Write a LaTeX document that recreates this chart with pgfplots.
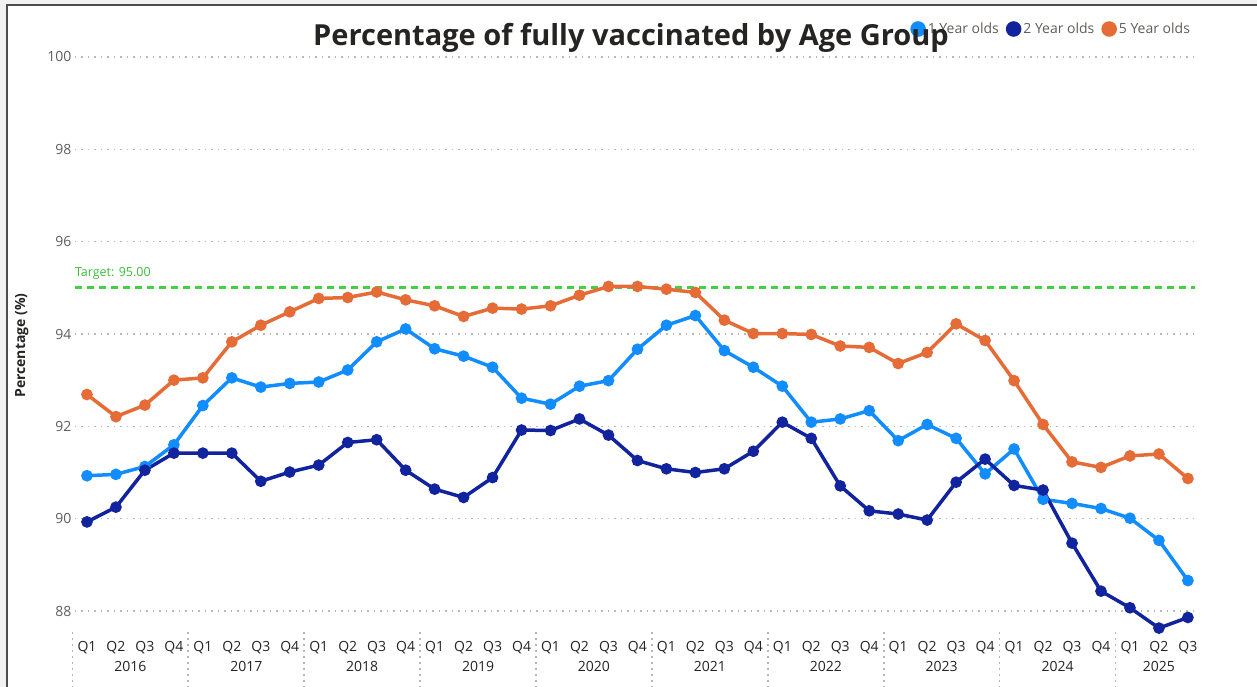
\documentclass[border=0pt]{standalone}
\usepackage{fontspec}
\setmainfont{Open Sans}
\usepackage{pgfplots}
\usepackage{pgfplotstable}
\pgfplotsset{compat=1.18}
\definecolor{c1}{HTML}{118DFF}
\definecolor{c2}{HTML}{12239E}
\definecolor{c5}{HTML}{E66C37}
\definecolor{tgt}{HTML}{45CF45}
\definecolor{tickgray}{HTML}{605E5C}
\definecolor{txt}{HTML}{252423}
\definecolor{sepgray}{HTML}{B8B6B4}

\pgfplotstableread{
i  one    two    five
0  90.93  89.93  92.69
1  90.96  90.25  92.21
2  91.13  91.05  92.46
3  91.60  91.42  93.00
4  92.45  91.42  93.05
5  93.05  91.42  93.83
6  92.85  90.81  94.19
7  92.93  91.01  94.48
8  92.96  91.16  94.77
9  93.22  91.65  94.79
10 93.83  91.71  94.91
11 94.11  91.05  94.74
12 93.68  90.64  94.61
13 93.52  90.46  94.38
14 93.28  90.89  94.56
15 92.61  91.92  94.54
16 92.48  91.91  94.61
17 92.87  92.16  94.84
18 92.99  91.81  95.03
19 93.67  91.26  95.03
20 94.19  91.08  94.97
21 94.40  91.00  94.90
22 93.64  91.08  94.30
23 93.28  91.46  94.01
24 92.87  92.09  94.01
25 92.09  91.74  93.99
26 92.16  90.71  93.74
27 92.34  90.17  93.71
28 91.69  90.10  93.36
29 92.04  89.97  93.60
30 91.74  90.79  94.22
31 90.97  91.29  93.86
32 91.51  90.72  92.99
33 90.42  90.62  92.04
34 90.33  89.47  91.23
35 90.22  88.43  91.11
36 90.01  88.07  91.36
37 89.53  87.63  91.40
38 88.66  87.86  90.87
}\datatable

\begin{document}
\begin{tikzpicture}[x=1pt,y=1pt]
\useasboundingbox (0,0) rectangle (1257,687);
\fill[gray!10] (0,0) rectangle (1257,687);
\fill[white] (7,0) rectangle (1257,682);
\draw[black!70, line width=1.3pt] (7,0) -- (7,682) -- (1257,682);

% year separators (quarter boundaries), x = 87 + 28.97*i
\foreach \i in {-0.5,3.5,7.5,11.5,15.5,19.5,23.5,27.5,31.5,35.5}{
  \draw[sepgray, line width=1.8pt, dash pattern=on 1.8pt off 4.2pt] ({87+28.97*\i},55) -- ({87+28.97*\i},0);
}

\begin{axis}[
  at={(74.8pt,52.9pt)}, anchor=south west,
  scale only axis, width=1120.3pt, height=577.1pt,
  xmin=-0.42, xmax=38.25, ymin=87.5, ymax=100,
  clip=false,
  axis line style={draw=none},
  tick style={draw=none},
  /pgf/number format/assume math mode=true,
  ytick={88,90,...,100},
  ymajorgrids,
  grid style={black!28, line width=1.2pt, dash pattern=on 1.3pt off 5.2pt},
  yticklabel style={font=\fontsize{14}{16}\selectfont, text=tickgray},
  xtick={0,...,38},
  xticklabels={Q1,Q2,Q3,Q4,Q1,Q2,Q3,Q4,Q1,Q2,Q3,Q4,Q1,Q2,Q3,Q4,Q1,Q2,Q3,Q4,Q1,Q2,Q3,Q4,Q1,Q2,Q3,Q4,Q1,Q2,Q3,Q4,Q1,Q2,Q3,Q4,Q1,Q2,Q3},
  xticklabel style={font=\fontsize{14}{16}\selectfont, text=txt, yshift=-4pt},
  ylabel={\bfseries Percentage (\%)},
  every axis y label/.style={at={(rel axis cs:0,0.5)}, xshift=-53pt, rotate=90, anchor=center, font=\fontsize{14}{16}\selectfont, text=txt},
  legend style={at={(axis description cs:1.0,1.0485)}, anchor=east, draw=none, fill=none,
    legend columns=3, font=\fontsize{14}{16}\selectfont, text=tickgray,
    /tikz/every even column/.append style={column sep=5pt}},
  legend image code/.code={\fill (4pt,0pt) circle (6pt);},
  legend cell align=left,
]
\addplot[tgt, line width=3pt, dash pattern=on 7pt off 5pt, forget plot] coordinates {(-0.42,95) (38.25,95)};
\node[anchor=west, text=tgt!90!black, font=\fontsize{12.5}{14}\selectfont, inner sep=0pt] at (axis cs:-0.42,95.32) {Target: 95.00};

\addplot[c1, line width=3.5pt, mark=*, mark size=4pt] table[x=i, y=one] {\datatable};
\addlegendentry{1 Year olds}
\addplot[c2, line width=3.5pt, mark=*, mark size=4pt] table[x=i, y=two] {\datatable};
\addlegendentry{2 Year olds}
\addplot[c5, line width=3.5pt, mark=*, mark size=4pt] table[x=i, y=five] {\datatable};
\addlegendentry{5 Year olds}

\node[text=txt, font=\fontsize{14}{16}\selectfont] at ([yshift=-32pt]axis cs:1.5,87.5) {2016};
\node[text=txt, font=\fontsize{14}{16}\selectfont] at ([yshift=-32pt]axis cs:5.5,87.5) {2017};
\node[text=txt, font=\fontsize{14}{16}\selectfont] at ([yshift=-32pt]axis cs:9.5,87.5) {2018};
\node[text=txt, font=\fontsize{14}{16}\selectfont] at ([yshift=-32pt]axis cs:13.5,87.5) {2019};
\node[text=txt, font=\fontsize{14}{16}\selectfont] at ([yshift=-32pt]axis cs:17.5,87.5) {2020};
\node[text=txt, font=\fontsize{14}{16}\selectfont] at ([yshift=-32pt]axis cs:21.5,87.5) {2021};
\node[text=txt, font=\fontsize{14}{16}\selectfont] at ([yshift=-32pt]axis cs:25.5,87.5) {2022};
\node[text=txt, font=\fontsize{14}{16}\selectfont] at ([yshift=-32pt]axis cs:29.5,87.5) {2023};
\node[text=txt, font=\fontsize{14}{16}\selectfont] at ([yshift=-32pt]axis cs:33.5,87.5) {2024};
\node[text=txt, font=\fontsize{14}{16}\selectfont] at ([yshift=-32pt]axis cs:37,87.5) {2025};
\end{axis}

\node[font=\fontsize{29}{32}\selectfont\bfseries, text=txt] at (631,649) {Percentage of fully vaccinated by Age Group};
\end{tikzpicture}
\end{document}
